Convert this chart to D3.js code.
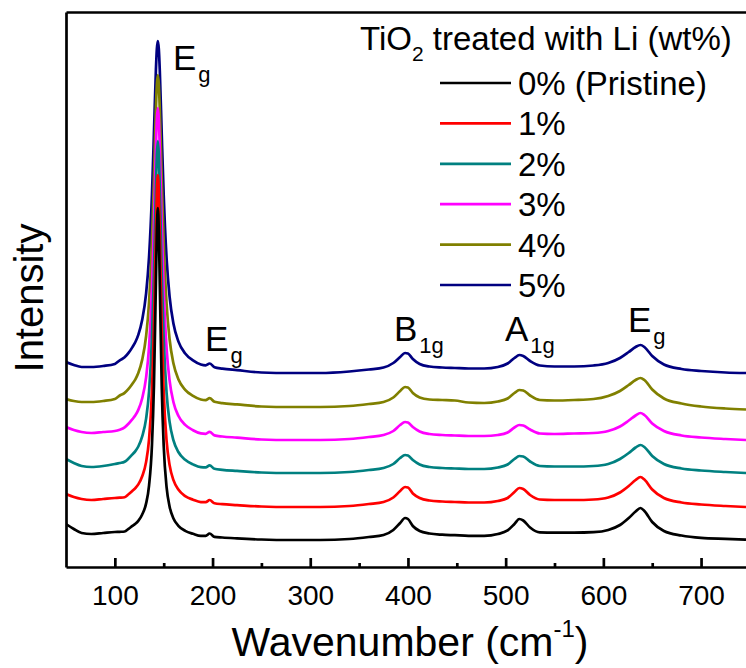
<!DOCTYPE html>
<html>
<head>
<meta charset="utf-8">
<script src="https://cdn.jsdelivr.net/npm/d3@7"></script>
<style>
  body { margin: 0; background: #fff; }
  svg { display: block; }
  text { font-family: "Liberation Sans", Arial, Helvetica, sans-serif; fill: #000; }
</style>
</head>
<body>
<svg id="chart" width="746" height="668"></svg>
<script>
// ---------------- DATA ----------------
const wavenumber = [50, 58, 66, 76, 88, 100, 105, 110, 114, 118, 121, 124, 128, 132, 135, 138, 140, 142, 143, 144, 145, 146, 148, 150, 153, 156, 160, 165, 172, 180, 188, 193, 197, 202, 210, 225, 250, 280, 310, 340, 360, 375, 385, 392, 397, 400, 405, 412, 422, 435, 448, 462, 478, 492, 502, 509, 514, 518, 525, 535, 550, 570, 590, 605, 617, 626, 633, 638, 642, 650, 662, 680, 700, 725, 746];

const seriesNames = ["0% (Pristine)", "1%", "2%", "3%", "4%", "5%"];
const seriesColors = ["#000000", "#ff0000", "#008080", "#ff00ff", "#808000", "#000080"];

const li0 = [43, 38, 34, 33, 34, 35, 35.2, 35.5, 38.1, 41.1, 43.2, 46.1, 52.5, 63.6, 81.4, 122.2, 181.1, 283.1, 335.9, 359, 335.9, 283.1, 180.1, 121.2, 79.4, 60.6, 48.5, 41.2, 36.2, 33.2, 31.1, 31.2, 33.5, 30.2, 29.5, 28.6, 27.5, 27, 27, 28, 30, 32, 37, 44, 49, 48, 41, 36, 33.5, 32.3, 31.8, 31.2, 31.2, 33, 36.6, 43, 48, 46.5, 39.5, 34.6, 34.3, 34.3, 34.8, 37, 42, 49, 55.5, 59, 56, 45, 36, 31.5, 29.1, 28.1, 27.4];
const li1 = [73, 70, 68, 67, 68, 69, 69.3, 69.8, 72.7, 76.2, 78.9, 82.6, 90.8, 105.1, 127.6, 175.9, 238.9, 332.5, 374.7, 392, 374.7, 332.5, 237.9, 174.9, 125.6, 102.1, 86.8, 77.4, 70.9, 67.3, 64.9, 64.8, 67, 63.7, 62.8, 61.9, 60.5, 60, 60, 61, 63, 65, 69.5, 76, 80, 79.5, 73.5, 69, 66.5, 65.5, 65, 64.5, 64.5, 66, 69, 75, 79, 78, 72, 67.5, 67, 67, 67.5, 69.5, 74.5, 81, 87, 90, 87.5, 77.5, 69, 64.5, 62.5, 61, 60];
const li2 = [108, 104, 101, 100, 101, 103, 104, 105.3, 108.5, 112.6, 115.9, 120.5, 130.6, 148.4, 175.3, 229.7, 294, 378.4, 412.6, 426, 412.6, 378.4, 293, 228.7, 173.3, 145.4, 126.6, 115, 107.2, 102.6, 99.8, 99.6, 101.6, 98.2, 97.2, 96.1, 94.5, 94, 94, 95, 97, 99, 103, 109, 112, 111.5, 107, 102.5, 100, 99, 98.5, 98, 98, 99.5, 102.5, 108, 111, 110.5, 105.5, 101, 100.5, 100.5, 101, 103, 108, 114, 119.5, 122, 120, 111, 103, 98.5, 96.5, 95, 94];
const li3 = [140, 137, 135, 134, 135, 136, 137.3, 139.6, 143.3, 147.8, 151.7, 157.1, 168.8, 189.6, 219.9, 278.1, 342.2, 418.9, 447.9, 459, 447.9, 418.9, 341.2, 277.1, 217.9, 186.6, 164.8, 151.3, 142.1, 136.8, 133.6, 133.2, 135.2, 131.6, 130.5, 129.4, 127.5, 127, 127, 128, 130, 132, 136, 142, 145, 144.5, 140, 135.5, 133, 132, 131.5, 131, 131, 132, 134.5, 139.5, 142, 141.5, 137.5, 133.5, 133, 133.5, 134, 136, 140.5, 146.5, 151.5, 154, 152, 143.5, 136, 131.5, 129.5, 128, 127];
const li4 = [168, 166, 165, 165, 166, 168, 171.5, 174.1, 178.1, 183.3, 187.7, 194, 207.4, 231, 264.5, 325.6, 388.2, 457.8, 482.7, 492, 482.7, 457.8, 387.2, 324.6, 262.5, 228, 203.4, 187.8, 177.2, 171.2, 167.5, 166.9, 168.8, 165.2, 163.9, 162.6, 160.5, 160, 160, 161, 163, 165, 169.5, 176, 180, 179.5, 174, 169.5, 167.5, 167, 166.5, 164.5, 164, 165.5, 168.5, 174, 177, 176.5, 171.5, 167, 166.5, 167, 168, 171, 176, 182, 187, 189, 187, 177.5, 168.5, 163.5, 160.5, 158.5, 157.5];
const li5 = [205, 202, 200, 200, 201, 203, 206.7, 209.7, 214.1, 219.9, 225, 232.1, 247.2, 273.6, 309.9, 372.9, 433.5, 496.5, 518.1, 526, 518.1, 496.5, 432.5, 371.9, 307.9, 270.6, 243.2, 225.6, 213.5, 206.6, 202.5, 201.7, 203.5, 199.8, 198.4, 196.9, 194.5, 194, 194, 195.5, 197.5, 199.5, 204, 210, 214, 213.5, 208, 203, 200.5, 199.5, 199, 198.5, 198.5, 200, 203.5, 209, 212, 211, 206, 201.5, 200.5, 200.5, 201.5, 204, 209, 215, 220, 222, 220, 211, 202.5, 198, 196, 194.5, 194];

const seriesValues = [li0, li1, li2, li3, li4, li5];

const majorTicks = [100, 200, 300, 400, 500, 600, 700];
const minorTicks = [150, 250, 350, 450, 550, 650];

// peak annotations: main letter, subscript, anchor wavenumber, anchor intensity
const peakMain = ["E", "E", "B", "A", "E"];
const peakSub = ["g", "g", "1g", "1g", "g"];
const peakX = [159.5, 192.3, 385.7, 499.3, 625.2];
const peakY = [497, 216, 226, 226, 235];

// ---------------- CHART ----------------
const svg = d3.select("#chart");
const plotLeft = 66, plotRight = 746, plotTop = 12, plotBottom = 567;

const x = d3.scaleLinear().domain([50, 746]).range([plotLeft, plotRight]);
const y = d3.scaleLinear().domain([0, 555]).range([plotBottom, plotTop]);

svg.append("defs").append("clipPath").attr("id", "clip")
  .append("rect").attr("x", plotLeft).attr("y", plotTop)
  .attr("width", plotRight - plotLeft).attr("height", plotBottom - plotTop);

const line = d3.line()
  .x((d, i) => x(wavenumber[i]))
  .y(d => y(d))
  .curve(d3.curveMonotoneX);

const gLines = svg.append("g").attr("clip-path", "url(#clip)");
for (let s = seriesValues.length - 1; s >= 0; s--) {
  gLines.append("path")
    .datum(seriesValues[s])
    .attr("d", line)
    .attr("fill", "none")
    .attr("stroke", seriesColors[s])
    .attr("stroke-width", 2.7)
    .attr("stroke-linejoin", "round");
}

// axes
const axisW = 2.7;
const gx = svg.append("g").attr("transform", `translate(0,${plotBottom})`)
  .call(d3.axisBottom(x).tickValues(majorTicks).tickSize(-9).tickSizeOuter(0).tickPadding(18).tickFormat(d3.format("d")));
gx.select(".domain").attr("stroke-width", axisW).attr("stroke", "#000");
gx.selectAll(".tick line").attr("stroke-width", axisW).attr("stroke", "#000");
gx.selectAll(".tick text").attr("font-size", 28).attr("font-family", null);

const gxm = svg.append("g").attr("transform", `translate(0,${plotBottom})`)
  .call(d3.axisBottom(x).tickValues(minorTicks).tickSize(-4).tickSizeOuter(0).tickFormat(""));
gxm.select(".domain").remove();
gxm.selectAll(".tick line").attr("stroke-width", axisW).attr("stroke", "#000");

const gt = svg.append("g").attr("transform", `translate(0,${plotTop})`)
  .call(d3.axisTop(x).tickValues([]).tickSizeOuter(0));
gt.select(".domain").attr("stroke-width", axisW).attr("stroke", "#000");

const gy = svg.append("g").attr("transform", `translate(${plotLeft},0)`)
  .call(d3.axisLeft(y).tickValues([]).tickSizeOuter(0));
gy.select(".domain").attr("stroke-width", axisW).attr("stroke", "#000");

// axis titles
const xt = svg.append("text").attr("x", 410).attr("y", 656)
  .attr("text-anchor", "middle").attr("font-size", 41);
xt.append("tspan").text("Wavenumber (cm");
xt.append("tspan").attr("font-size", 24).attr("dy", -19).text("-1");
xt.append("tspan").attr("dy", 19).text(")");

svg.append("text")
  .attr("transform", "translate(43,298) rotate(-90)")
  .attr("text-anchor", "middle").attr("font-size", 40)
  .text("Intensity");

// peak labels
peakMain.forEach((m, i) => {
  const t = svg.append("text")
    .attr("x", x(peakX[i])).attr("y", y(peakY[i]))
    .attr("font-size", 35);
  t.append("tspan").text(m);
  t.append("tspan").attr("font-size", 22).attr("dx", 2).attr("dy", 12).text(peakSub[i]);
});

// legend
const lt = svg.append("text").attr("x", 360).attr("y", 50).attr("font-size", 33);
lt.append("tspan").text("TiO");
lt.append("tspan").attr("font-size", 21).attr("dy", 11).text("2");
lt.append("tspan").attr("dy", -11).text(" treated with Li (wt%)");

const legendY0 = 83, legendDY = 40.4;
seriesNames.forEach((name, i) => {
  const yy = legendY0 + i * legendDY;
  svg.append("line").attr("x1", 440).attr("x2", 511).attr("y1", yy).attr("y2", yy)
    .attr("stroke", seriesColors[i]).attr("stroke-width", 2.7);
  svg.append("text").attr("x", 518).attr("y", yy + 12).attr("font-size", 33).text(name);
});
</script>
</body>
</html>
